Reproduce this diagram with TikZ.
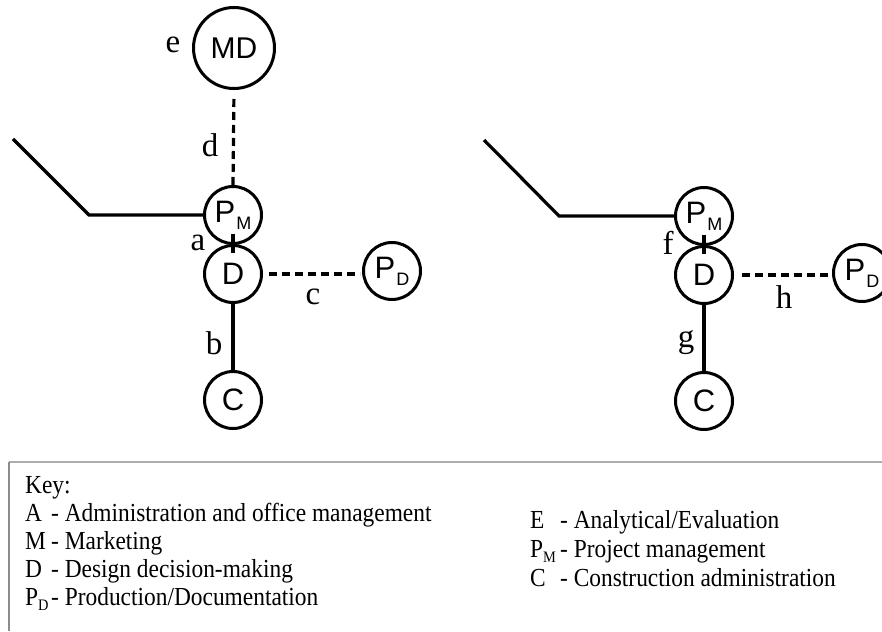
\documentclass[tikz,border=0pt]{standalone}
\usepackage{fontspec}
\setmainfont{Liberation Serif}
\newfontfamily\labelsans{Liberation Sans}
\newfontfamily\keyserif[FakeStretch=0.9]{Liberation Serif}
% lowered index inside a unit circle
\newcommand\unitidx[1]{\hspace{1pt}\raisebox{-7pt}{\fontsize{18}{18}\selectfont #1}}
% lowered index in the key text
\newcommand\keyidx[1]{\raisebox{-5pt}{\fontsize{16}{16}\selectfont #1}}
\begin{document}
\begin{tikzpicture}[x=1pt,y=-1pt,
  unit/.style={circle,draw,line width=3pt,inner sep=0pt,minimum size=57pt,
    font=\labelsans\fontsize{31}{31}\selectfont},
  bigunit/.style={unit,minimum size=81pt,font=\labelsans\fontsize{30}{30}\selectfont},
  link/.style={line width=3.2pt},
  weak/.style={link,dash pattern=on 8pt off 5pt},
  tag/.style={inner sep=0pt,font=\fontsize{33}{33}\selectfont},
  keyline/.style={anchor=base west,inner sep=0pt,font=\keyserif\fontsize{26}{26}\selectfont}
]
\useasboundingbox (0,0) rectangle (882,631);
\fill[white] (0,0) rectangle (882,631);

% ---------- left configuration ----------
\node[bigunit] (MD) at (234,48) {MD};
\node[unit] (PM) at (233,215) {P\unitidx{M}};
\node[unit] (D)  at (233,274) {D};
\node[unit] (PD) at (392,271) {P\unitidx{D}};
\node[unit] (C)  at (233,400) {C};
\coordinate (l1) at (13,139);
\coordinate (l2) at (89,215);

\draw[link] (l1) -- (l2) -- (PM.west);
\draw[weak,shorten <=9pt] (MD.south) -- (PM.north);
\draw[link] ([yshift=11pt]PM.south) -- ([yshift=-9pt]D.north);
\draw[weak,shorten <=6pt,shorten >=2pt] (D.east) -- (D.east -| PD.west);
\draw[link] (D.south) -- (C.north);

\node[tag] (te) at (173,45) {e};
\node[tag] (td) at (210,145) {d};
\node[tag] (ta) at (198,243) {a};
\node[tag] (tc) at (313,297) {c};
\node[tag] (tb) at (214,343) {b};

% ---------- right configuration ----------
\node[unit] (PM2) at (704,216) {P\unitidx{M}};
\node[unit] (D2)  at (704,275) {D};
\node[unit] (PD2) at (862,273) {P\unitidx{D}};
\node[unit] (C2)  at (704,401) {C};
\coordinate (r1) at (484,140);
\coordinate (r2) at (559,216);

\draw[link] (r1) -- (r2) -- (PM2.west);
\draw[link] ([yshift=11pt]PM2.south) -- ([yshift=-9pt]D2.north);
\draw[weak,shorten <=8pt,shorten >=3pt] (D2.east) -- (D2.east -| PD2.west);
\draw[link] (D2.south) -- (C2.north);

\node[tag] (tf) at (668,243) {f};
\node[tag] (tg) at (686,343) {g};
\node[tag] (th) at (784,297) {h};

% ---------- key ----------
\coordinate (k1) at (9,462);
\coordinate (k2) at (882,462);
\coordinate (k3) at (9,631);
\draw[line width=2pt,black!32] (k1) -- (k2);
\draw[line width=1.3pt,black!45] (k1) -- (k3);

\node[keyline] (kh) at (25,493) {Key:};
\node[keyline] (ka) at (25,521) {\makebox[26pt][l]{A}- Administration and office management};
\node[keyline] (km) at (25,549) {\makebox[26pt][l]{M}- Marketing};
\node[keyline] (kd) at (25,577) {\makebox[26pt][l]{D}- Design decision-making};
\node[keyline] (kp) at (25,605) {\makebox[26pt][l]{P\keyidx{D}}- Production/Documentation};
\node[keyline] (ke) at (530,528) {\makebox[30pt][l]{E}- Analytical/Evaluation};
\node[keyline] (kpm) at (530,557) {\makebox[30pt][l]{P\keyidx{M}}- Project management};
\node[keyline] (kc) at (530,586) {\makebox[30pt][l]{C}- Construction administration};
\end{tikzpicture}
\end{document}
